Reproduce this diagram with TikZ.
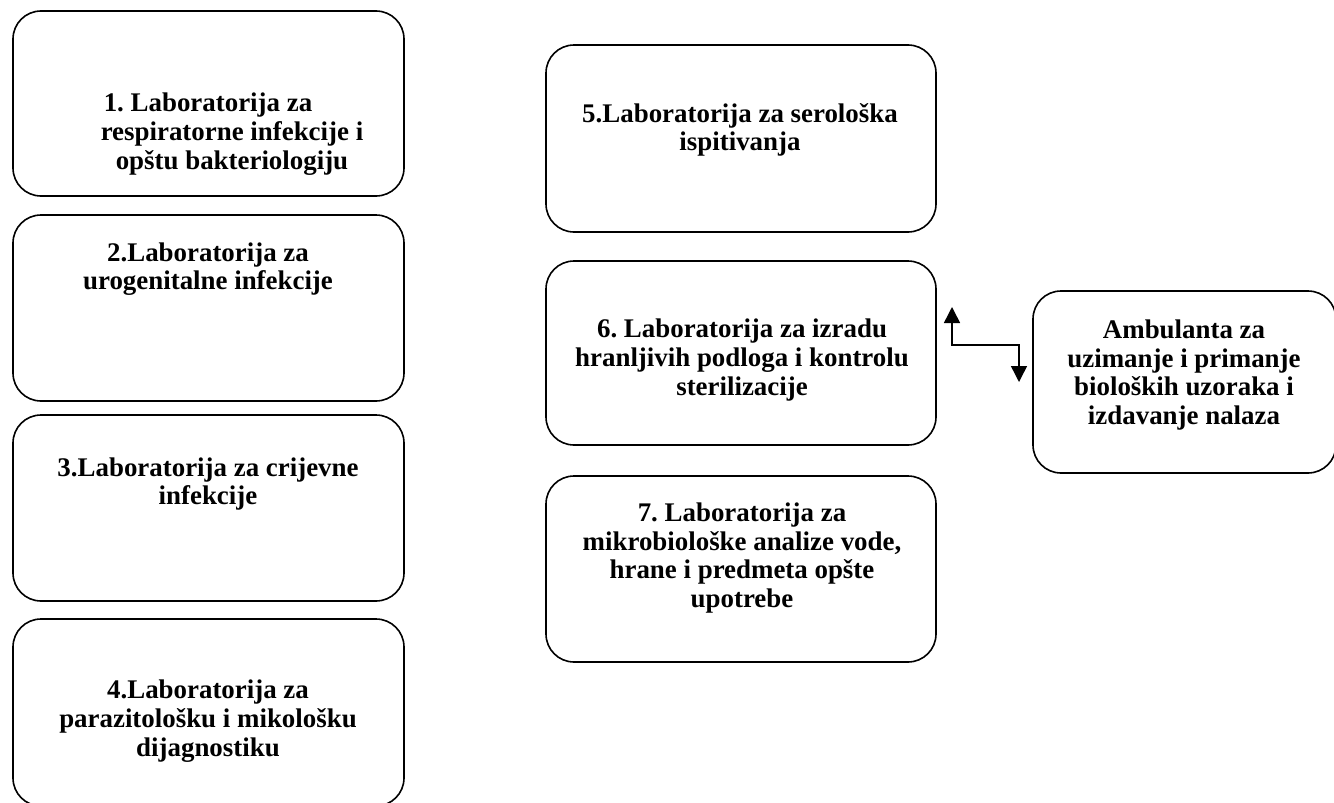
\documentclass[tikz,border=0pt]{standalone}
\usepackage{fontspec}
\setmainfont{Liberation Serif}
\usetikzlibrary{arrows.meta,fit}
\begin{document}
\frenchspacing
\begin{tikzpicture}[x=1pt,y=-1pt,
  box/.style={draw=black,line width=1.6pt,rounded corners=28pt,inner sep=0pt,fit={#1}},
  lab/.style={align=center,inner sep=0pt,font=\bfseries\fontsize{26.9}{28.7}\selectfont},
  conn/.style={line width=1.5pt,{Triangle[width=16pt,length=16pt]}-{Triangle[width=16pt,length=16pt]}}]
\useasboundingbox (0,0) rectangle (1334,803);
% boxes
\node[box={(13,11) (404,196)}] (b1) {};
\node[box={(13,215) (404,401)}] (b2) {};
\node[box={(13,415) (404,601)}] (b3) {};
\node[box={(13,619) (404,806)}] (b4) {};
\node[box={(546,45) (936,232)}] (b5) {};
\node[box={(546,261) (936,445)}] (b6) {};
\node[box={(546,476) (936,662)}] (b7) {};
\node[box={(1033,291) (1336,473)}] (amb) {};
% texts
\node[lab] (t1) at (232,134) {\hspace*{-48pt}1. Laboratorija za\\respiratorne infekcije i\\opštu bakteriologiju};
\node[lab] (t2) at (208,269) {2.Laboratorija za\\urogenitalne infekcije};
\node[lab] (t3) at (208,484) {3.Laboratorija za crijevne\\infekcije};
\node[lab] (t4) at (208,721) {4.Laboratorija za\\parazitološku i mikološku\\dijagnostiku};
\node[lab] (t5) at (740,130) {5.Laboratorija za serološka\\ispitivanja};
\node[lab] (t6) at (742,360) {6. Laboratorija za izradu\\hranljivih podloga i kontrolu\\sterilizacije};
\node[lab] (t7) at (742,558) {7. Laboratorija za\\mikrobiološke analize vode,\\hrane i predmeta opšte\\upotrebe};
\node[lab] (ta) at (1184,375) {Ambulanta za\\uzimanje i primanje\\bioloških uzoraka i\\izdavanje nalaza};
% connector
\coordinate (a1) at (952,307);
\coordinate (m) at (1019,345);
\coordinate (a2) at (1019,382);
\draw[conn] (a1) |- (m) -- (a2);
\end{tikzpicture}
\end{document}
